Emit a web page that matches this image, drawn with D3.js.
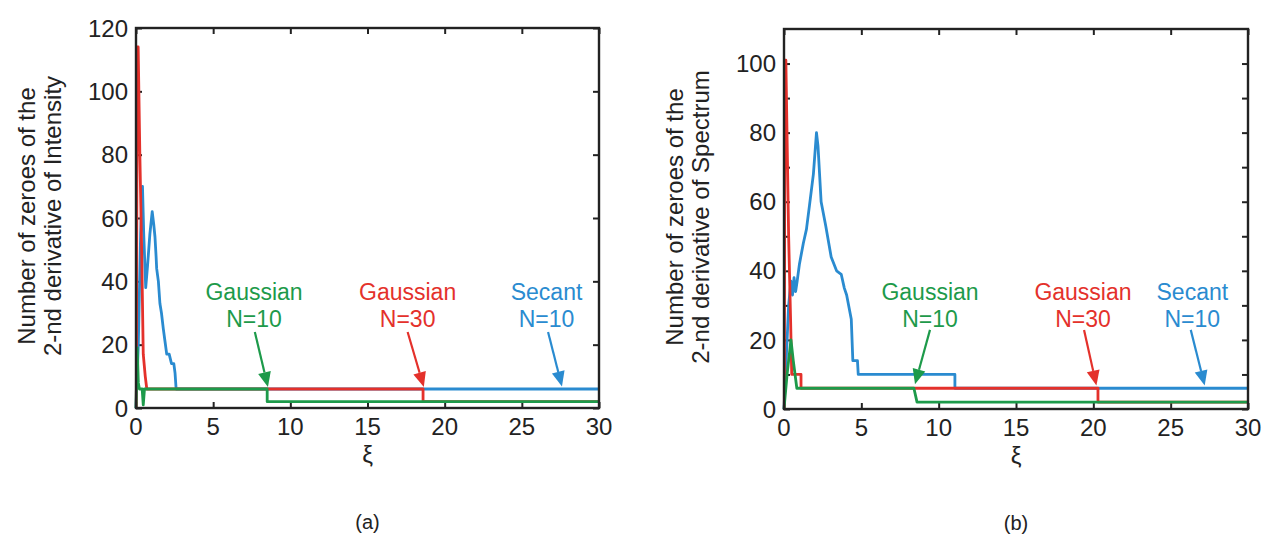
<!DOCTYPE html>
<html>
<head>
<meta charset="utf-8">
<script src="https://cdn.jsdelivr.net/npm/d3@7"></script>
<style>
  body { margin: 0; background: #fff; }
  svg text { font-family: "Liberation Sans", Arial, Helvetica, sans-serif; fill: #222; }
</style>
</head>
<body>
<div id="chart"></div>
<script>
// ---- data: [xi, number of zeroes] ----
var xTicks = [0, 5, 10, 15, 20, 25, 30];
var yTicksA = [0, 20, 40, 60, 80, 100, 120];
var yTicksB = [0, 10, 20, 30, 40, 50, 60, 70, 80, 90, 100];
var yLabelsB = [0, 20, 40, 60, 80, 100];

// (a) intensity
var secantA = [[0, 0], [0.15, 20], [0.3, 55], [0.42, 70], [0.5, 55], [0.63, 38], [0.75, 45], [0.9, 55],
    [1.05, 62], [1.15, 58], [1.23, 54], [1.3, 48], [1.34, 44], [1.45, 40], [1.55, 33], [1.65, 30],
    [1.77, 25], [1.88, 21], [1.99, 17], [2.15, 17], [2.3, 14], [2.45, 14], [2.53, 11], [2.6, 6], [30, 6]];
var gauss30A = [[0.02, 0], [0.08, 114], [0.14, 114], [0.25, 80], [0.37, 49], [0.47, 17], [0.6, 10],
    [0.7, 6], [18.6, 6], [18.6, 2], [30, 2]];
var gauss10A = [[0, 0], [0.08, 19], [0.15, 8], [0.22, 6], [0.4, 6], [0.47, 1], [0.55, 6], [8.5, 6],
    [8.5, 2], [30, 2]];

// (b) spectrum
var secantB = [[0, 0], [0.1, 10], [0.3, 30], [0.45, 37], [0.55, 33], [0.65, 38], [0.75, 34], [0.85, 37],
    [1.0, 42], [1.25, 48], [1.45, 52], [1.65, 59], [1.9, 68], [2.1, 80], [2.2, 76], [2.4, 60], [2.7, 53],
    [3.05, 44], [3.4, 40], [3.7, 39], [3.9, 35], [4.05, 33], [4.35, 26], [4.45, 14], [4.75, 14],
    [4.8, 10], [11.05, 10], [11.05, 6], [30, 6]];
var gauss30B = [[0.02, 0], [0.06, 101], [0.12, 101], [0.3, 50], [0.43, 25], [0.5, 10], [1.1, 10],
    [1.1, 6], [20.3, 6], [20.3, 2], [30, 2]];
var gauss10B = [[0, 0], [0.2, 10], [0.45, 20], [0.6, 14], [0.83, 6], [8.4, 6], [8.6, 2], [30, 2]];

// annotations: label position, arrow tail and tip in data units
var notesA = [
    {lines: ["Gaussian", "N=10"], color: "green", tx: 7.65, ty: 34, tail: [7.7, 24], tip: [8.55, 6.6]},
    {lines: ["Gaussian", "N=30"], color: "red", tx: 17.6, ty: 34, tail: [17.6, 24], tip: [18.65, 6.6]},
    {lines: ["Secant", "N=10"], color: "blue", tx: 26.6, ty: 34, tail: [26.7, 24], tip: [27.6, 6.8]}
];
var notesB = [
    {lines: ["Gaussian", "N=10"], color: "green", tx: 9.44, ty: 31.5, tail: [9.44, 22.9], tip: [8.47, 7.2]},
    {lines: ["Gaussian", "N=30"], color: "red", tx: 19.33, ty: 31.5, tail: [19.4, 22.9], tip: [20.2, 6.8]},
    {lines: ["Secant", "N=10"], color: "blue", tx: 26.4, ty: 31.5, tail: [26.3, 22.9], tip: [27.2, 6.8]}
];

var color = {red: "#e4312b", green: "#1d9a4a", blue: "#2a8bd0"};

var svg = d3.select("#chart").append("svg")
    .attr("width", 1272)
    .attr("height", 540);

function panel(opt) {
    var x = d3.scaleLinear().domain([0, 30]).range([0, opt.width]),
        y = d3.scaleLinear().domain([0, opt.ymax]).range([opt.height, 0]);

    var g = svg.append("g")
        .attr("transform", "translate(" + opt.left + "," + opt.top + ")");

    // ticks (inward, mirrored on top and right)
    g.append("g").attr("transform", "translate(0," + opt.height + ")")
        .call(d3.axisBottom(x).tickValues(xTicks).tickSize(-6).tickFormat(""));
    g.append("g")
        .call(d3.axisTop(x).tickValues(xTicks).tickSize(-6).tickFormat(""));
    g.append("g")
        .call(d3.axisLeft(y).tickValues(opt.yTicks).tickSize(-6).tickFormat(""));
    g.append("g").attr("transform", "translate(" + opt.width + ",0)")
        .call(d3.axisRight(y).tickValues(opt.yTicks).tickSize(-6).tickFormat(""));
    g.selectAll(".domain").remove();
    g.selectAll(".tick line").attr("stroke", "#222").attr("stroke-width", 2);

    // tick labels
    g.append("g").selectAll("text")
        .data(xTicks).enter().append("text")
        .attr("x", function(d) { return x(d); })
        .attr("y", opt.height + 18)
        .attr("dy", "0.36em")
        .attr("text-anchor", "middle")
        .style("font-size", "24px")
        .text(function(d) { return d; });
    g.append("g").selectAll("text")
        .data(opt.yLabels).enter().append("text")
        .attr("x", -8)
        .attr("y", function(d) { return y(d); })
        .attr("dy", "0.36em")
        .attr("text-anchor", "end")
        .style("font-size", "24px")
        .text(function(d) { return d; });

    // lines: secant below, gaussian 30, gaussian 10 on top
    var line = d3.line()
        .x(function(d) { return x(d[0]); })
        .y(function(d) { return y(d[1]); });
    opt.series.forEach(function(s) {
        g.append("path")
            .datum(s.data)
            .attr("fill", "none")
            .attr("stroke", color[s.color])
            .attr("stroke-width", 2.8)
            .attr("stroke-linejoin", "round")
            .attr("d", line);
    });

    // box
    g.append("rect")
        .attr("width", opt.width)
        .attr("height", opt.height)
        .attr("fill", "none")
        .attr("stroke", "#222")
        .attr("stroke-width", 2.4);

    // annotations with arrows
    opt.notes.forEach(function(n) {
        var c = color[n.color];
        n.lines.forEach(function(t, i) {
            g.append("text")
                .attr("x", x(n.tx))
                .attr("y", y(n.ty) + i * 27)
                .attr("text-anchor", "middle")
                .style("font-size", "23px")
                .style("fill", c)
                .text(t);
        });
        var x1 = x(n.tail[0]), y1 = y(n.tail[1]),
            x2 = x(n.tip[0]), y2 = y(n.tip[1]),
            ang = Math.atan2(y2 - y1, x2 - x1),
            len = 15, hw = 6.5,
            bx = x2 - len * Math.cos(ang), by = y2 - len * Math.sin(ang);
        g.append("line")
            .attr("x1", x1).attr("y1", y1)
            .attr("x2", bx).attr("y2", by)
            .attr("stroke", c)
            .attr("stroke-width", 2.2);
        g.append("path")
            .attr("d", "M" + x2 + "," + y2 +
                "L" + (bx + hw * Math.sin(ang)) + "," + (by - hw * Math.cos(ang)) +
                "L" + (bx - hw * Math.sin(ang)) + "," + (by + hw * Math.cos(ang)) + "Z")
            .attr("fill", c);
    });

    // axis titles
    var ylab = g.append("g")
        .attr("transform", "translate(" + (-101) + "," + (opt.height / 2 - 2) + ") rotate(-90)");
    ylab.append("text")
        .attr("text-anchor", "middle")
        .style("font-size", "24px")
        .text("Number of zeroes of the");
    ylab.append("text")
        .attr("y", 26)
        .attr("text-anchor", "middle")
        .style("font-size", "24px")
        .text(opt.ytitle);

    g.append("text")
        .attr("x", opt.width / 2)
        .attr("y", opt.height + 55)
        .attr("text-anchor", "middle")
        .style("font-size", "24px")
        .text("ξ");

    g.append("text")
        .attr("x", opt.width / 2)
        .attr("y", opt.height + 121)
        .attr("text-anchor", "middle")
        .style("font-size", "20px")
        .text(opt.caption);
}

panel({left: 136, top: 28, width: 463, height: 380, ymax: 120,
    yTicks: yTicksA, yLabels: yTicksA,
    series: [{data: secantA, color: "blue"}, {data: gauss30A, color: "red"}, {data: gauss10A, color: "green"}],
    notes: notesA, ytitle: "2-nd derivative of Intensity", caption: "(a)"});

panel({left: 784, top: 29, width: 464, height: 380, ymax: 110,
    yTicks: yTicksB, yLabels: yLabelsB,
    series: [{data: secantB, color: "blue"}, {data: gauss30B, color: "red"}, {data: gauss10B, color: "green"}],
    notes: notesB, ytitle: "2-nd derivative of Spectrum", caption: "(b)"});
</script>
</body>
</html>
